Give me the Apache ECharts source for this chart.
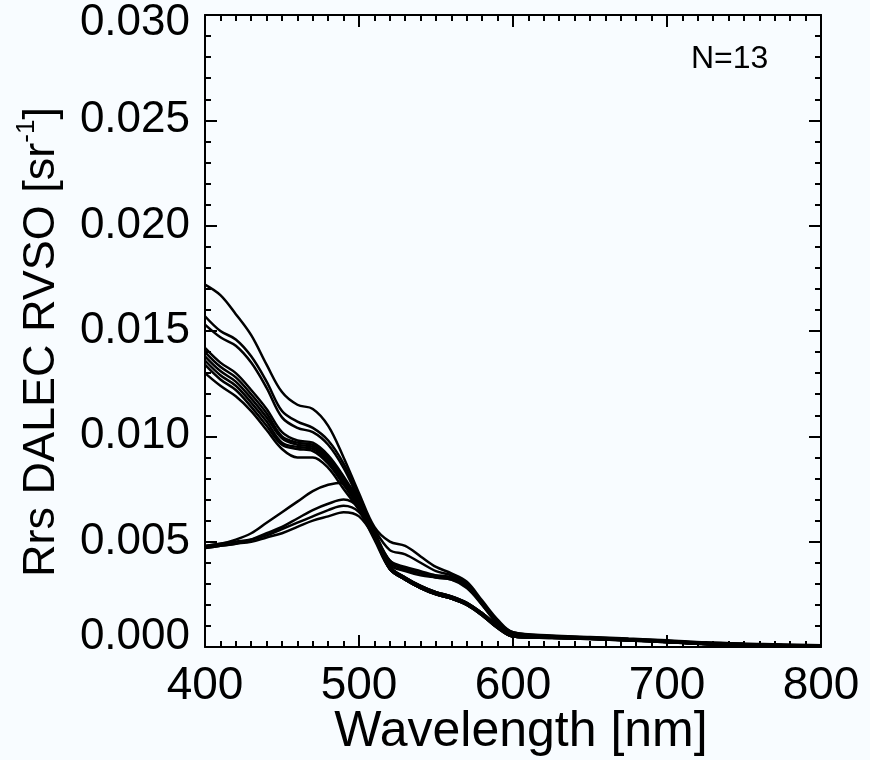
<!DOCTYPE html>
<html>
<head>
<meta charset="utf-8">
<script src="https://cdn.jsdelivr.net/npm/echarts@6/dist/echarts.min.js"></script>
<style>
html,body{margin:0;padding:0;background:#f8fcff;}
#c{width:870px;height:760px;}
</style>
</head>
<body>
<div id="c"></div>
<script>
// Wavelengths [nm]
var wavelengths = [400,410,420,430,440,450,460,470,480,490,500,510,520,530,540,550,560,570,580,590,600,625,650,675,700,725,750,775,800];

// Rrs spectra [sr^-1], 13 stations
var spec01 = [0.0172,0.0167,0.0158,0.0148,0.0134,0.0121,0.0115,0.0113,0.0105,0.0090,0.0073,0.0057,0.0050,0.0048,0.0043,0.0038,0.0035,0.0031,0.0022,0.0013,0.0007,0.00055,0.00048,0.00040,0.00032,0.00022,0.00016,0.00012,0.00008];
var spec02 = [0.0157,0.0150,0.0146,0.0138,0.0126,0.0112,0.0107,0.0104,0.0098,0.0087,0.0071,0.0056,0.0046,0.0044,0.0040,0.0036,0.0034,0.0030,0.0021,0.0012,0.0007,0.00052,0.00046,0.00038,0.00030,0.00020,0.00015,0.00010,0.00006];
var spec03 = [0.0153,0.0147,0.0143,0.0135,0.0123,0.0109,0.0104,0.0102,0.0096,0.0085,0.0070,0.0055,0.0041,0.0038,0.0036,0.0034,0.0033,0.0030,0.0021,0.0012,0.0006,0.00050,0.00044,0.00037,0.00029,0.00018,0.00014,0.00010,0.00005];
var spec04 = [0.0142,0.0135,0.0130,0.0122,0.0113,0.0102,0.0098,0.0097,0.0091,0.0081,0.0069,0.0054,0.0041,0.0037,0.0035,0.0034,0.0033,0.0029,0.0021,0.0012,0.0006,0.00050,0.00043,0.00036,0.00028,0.00018,0.00013,0.00009,0.00005];
var spec05 = [0.0140,0.0133,0.0128,0.0120,0.0111,0.0100,0.0097,0.0096,0.0090,0.0080,0.0068,0.0053,0.0040,0.0037,0.0035,0.0033,0.0032,0.0029,0.0020,0.0011,0.0006,0.00049,0.00042,0.00035,0.00027,0.00017,0.00012,0.00008,0.00004];
var spec06 = [0.0138,0.0131,0.0126,0.0118,0.0109,0.0099,0.0096,0.0095,0.0089,0.0079,0.0067,0.0053,0.0039,0.0036,0.0034,0.0033,0.0032,0.0028,0.0020,0.0011,0.0006,0.00048,0.00041,0.00034,0.00026,0.00016,0.00012,0.00008,0.00004];
var spec07 = [0.0136,0.0129,0.0124,0.0116,0.0107,0.0097,0.0095,0.0094,0.0088,0.0078,0.0066,0.0052,0.0038,0.0033,0.0029,0.0026,0.0024,0.0021,0.0016,0.0010,0.0005,0.00045,0.00040,0.00033,0.00025,0.00015,0.00011,0.00007,0.00003];
var spec08 = [0.0134,0.0127,0.0122,0.0114,0.0105,0.0096,0.0094,0.0093,0.0087,0.0077,0.0066,0.0052,0.0037,0.0032,0.0028,0.0025,0.0023,0.0020,0.0016,0.0010,0.0005,0.00044,0.00039,0.00032,0.00024,0.00014,0.00010,0.00006,0.00003];
var spec09 = [0.0130,0.0124,0.0119,0.0112,0.0103,0.0094,0.0090,0.0090,0.0085,0.0075,0.0065,0.0051,0.0037,0.0032,0.0028,0.0025,0.0023,0.0020,0.0015,0.0009,0.0005,0.00043,0.00038,0.00031,0.00023,0.00013,0.00010,0.00006,0.00002];
var spec10 = [0.0048,0.0049,0.0051,0.0054,0.0059,0.0064,0.0069,0.0074,0.0077,0.0078,0.0069,0.0054,0.0038,0.0033,0.0029,0.0026,0.0024,0.0021,0.0016,0.0010,0.0005,0.00044,0.00039,0.00032,0.00024,0.00014,0.00010,0.00006,0.00003];
var spec11 = [0.0047,0.0048,0.0049,0.0051,0.0054,0.0057,0.0061,0.0065,0.0068,0.0070,0.0066,0.0053,0.0037,0.0032,0.0028,0.0025,0.0023,0.0020,0.0015,0.0009,0.0005,0.00043,0.00038,0.00031,0.00023,0.00013,0.00009,0.00005,0.00002];
var spec12 = [0.0048,0.0049,0.0050,0.0051,0.0053,0.0056,0.0059,0.0062,0.0065,0.0067,0.0064,0.0053,0.0038,0.0033,0.0029,0.0026,0.0024,0.0021,0.0016,0.0010,0.0005,0.00045,0.00040,0.00033,0.00025,0.00015,0.00011,0.00007,0.00003];
var spec13 = [0.0047,0.0048,0.0049,0.0050,0.0052,0.0054,0.0057,0.0060,0.0062,0.0064,0.0062,0.0052,0.0037,0.0032,0.0028,0.0025,0.0023,0.0020,0.0015,0.0009,0.0005,0.00044,0.00039,0.00032,0.00024,0.00014,0.00010,0.00006,0.00002];

var spectra = [spec01,spec02,spec03,spec04,spec05,spec06,spec07,spec08,spec09,spec10,spec11,spec12,spec13];
var annotation = 'N=13';

var FONT = '"Liberation Sans", Arial, Helvetica, sans-serif';

var series = spectra.map(function (s, i) {
  return {
    type: 'line',
    name: 'st' + (i + 1),
    data: wavelengths.map(function (w, j) { return [w, s[j]]; }),
    showSymbol: false,
    smooth: 0.35,
    lineStyle: { color: '#000', width: 2.5 },
    silent: true,
    animation: false,
    z: 3
  };
});

var tickColor = '#000';
function baseAxis() {
  return {
    axisLine: { show: true, onZero: false, lineStyle: { color: tickColor, width: 2 } },
    axisTick: { show: true, inside: true, length: 12, lineStyle: { color: tickColor, width: 2 } },
    minorTick: { show: true, length: 6, lineStyle: { color: tickColor, width: 2 } },
    splitLine: { show: false },
    minorSplitLine: { show: false }
  };
}

var xMain = Object.assign(baseAxis(), {
  type: 'value', min: 400, max: 800, interval: 100, position: 'bottom',
  minorTick: { show: true, splitNumber: 10, length: 6, lineStyle: { color: tickColor, width: 2 } },
  axisLabel: { show: true, margin: 16, color: '#000', fontSize: 46, fontFamily: FONT },
  name: 'Wavelength [nm]', nameLocation: 'middle', nameGap: 60, nameMoveOverlap: false,
  nameTextStyle: { color: '#000', fontSize: 50, fontFamily: FONT, padding: [0, 0, 0, 16] }
});
var xTop = Object.assign(baseAxis(), {
  type: 'value', min: 400, max: 800, interval: 100, position: 'top',
  minorTick: { show: true, splitNumber: 10, length: 6, lineStyle: { color: tickColor, width: 2 } },
  axisLabel: { show: false }
});
var yMain = Object.assign(baseAxis(), {
  type: 'value', min: 0, max: 0.03, interval: 0.005, position: 'left',
  minorTick: { show: true, splitNumber: 5, length: 6, lineStyle: { color: tickColor, width: 2 } },
  axisLabel: {
    show: true, margin: 15, color: '#000', fontSize: 44, fontFamily: FONT,
    formatter: function (v) {
      var t = v.toFixed(3);
      if (Math.abs(v) < 1e-9) return '{lo|' + t + '}';
      if (Math.abs(v - 0.03) < 1e-9) return '{hi|' + t + '}';
      return '{n|' + t + '}';
    },
    rich: {
      n: { fontSize: 44, fontFamily: FONT, color: '#000' },
      lo: { fontSize: 44, fontFamily: FONT, color: '#000', padding: [0, 0, 20, 0] },
      hi: { fontSize: 44, fontFamily: FONT, color: '#000', padding: [16, 0, 0, 0] }
    }
  },
  name: '{a|Rrs DALEC RVSO [sr}{s|-1}{a|]}', nameLocation: 'middle', nameRotate: 90, nameGap: 141, nameMoveOverlap: false,
  nameTextStyle: {
    color: '#000', fontSize: 45, fontFamily: FONT, padding: [0, 22, 0, 0],
    rich: {
      a: { fontSize: 45, fontFamily: FONT, color: '#000', lineHeight: 50, verticalAlign: 'bottom' },
      s: { fontSize: 26, fontFamily: FONT, color: '#000', lineHeight: 50, verticalAlign: 'top' }
    }
  }
});
var yRight = Object.assign(baseAxis(), {
  type: 'value', min: 0, max: 0.03, interval: 0.005, position: 'right',
  minorTick: { show: true, splitNumber: 5, length: 6, lineStyle: { color: tickColor, width: 2 } },
  axisLabel: { show: false }
});

var chart = echarts.init(document.getElementById('c'), null, { renderer: 'canvas' });
chart.setOption({
  backgroundColor: '#f8fcff',
  animation: false,
  grid: { left: 205, right: 49, top: 15, bottom: 113, containLabel: false, outerBoundsMode: 'none' },
  title: {
    text: annotation, left: 686, top: 38,
    textStyle: { color: '#000', fontSize: 32, fontWeight: 'normal', fontFamily: FONT }
  },
  xAxis: [xMain, xTop],
  yAxis: [yMain, yRight],
  series: series
});
</script>
</body>
</html>
